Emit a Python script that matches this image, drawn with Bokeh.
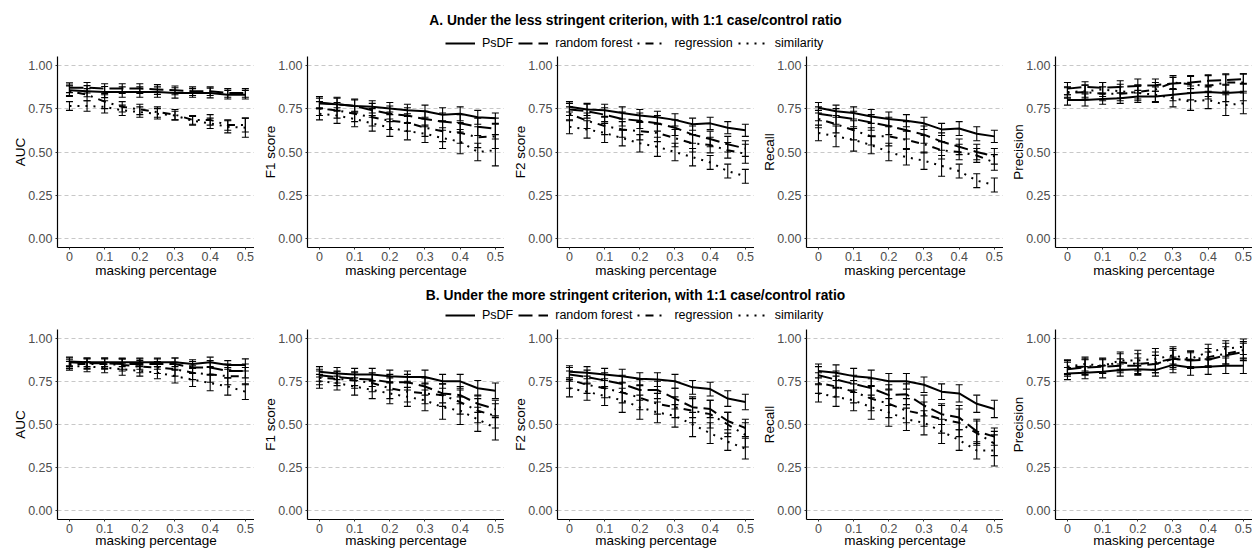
from bokeh.plotting import figure
from bokeh.models import (Range1d, FixedTicker, Whisker, TeeHead, ColumnDataSource,
                          Legend, LegendItem, Label)
from bokeh.layouts import column, row
from bokeh.embed import file_html
from bokeh.resources import INLINE

FONT = "Liberation Sans"

# ---------------- data ----------------
methods = ["PsDF", "random forest", "regression", "similarity"]
masking = [0.0, 0.05, 0.1, 0.15, 0.2, 0.25, 0.3, 0.35, 0.4, 0.45, 0.5]
x_ticks = [0.0, 0.1, 0.2, 0.3, 0.4, 0.5]
x_tick_labels = ["0", "0.1", "0.2", "0.3", "0.4", "0.5"]
y_ticks = [0.0, 0.25, 0.5, 0.75, 1.0]
y_tick_labels = ["0.00", "0.25", "0.50", "0.75", "1.00"]
metrics = ["AUC", "F1 score", "F2 score", "Recall", "Precision"]
title_a = "A. Under the less stringent criterion, with 1:1 case/control ratio"
title_b = "B. Under the more stringent criterion, with 1:1 case/control ratio"

# order of inner lists: PsDF, random forest, regression, similarity
A_AUC = [[0.855, 0.850, 0.845, 0.845, 0.845, 0.845, 0.840, 0.840, 0.840, 0.830, 0.830],
         [0.870, 0.870, 0.865, 0.865, 0.865, 0.860, 0.855, 0.850, 0.850, 0.840, 0.840],
         [0.850, 0.830, 0.790, 0.760, 0.745, 0.730, 0.715, 0.685, 0.685, 0.655, 0.655],
         [0.765, 0.765, 0.760, 0.740, 0.730, 0.720, 0.710, 0.680, 0.665, 0.645, 0.640]]
A_AUC_ERR = [[0.030, 0.032, 0.032, 0.030, 0.030, 0.030, 0.030, 0.025, 0.028, 0.025, 0.025],
             [0.028, 0.030, 0.028, 0.028, 0.028, 0.028, 0.025, 0.025, 0.025, 0.025, 0.025],
             [0.030, 0.035, 0.040, 0.030, 0.030, 0.030, 0.030, 0.025, 0.030, 0.030, 0.040],
             [0.025, 0.030, 0.035, 0.030, 0.030, 0.030, 0.025, 0.025, 0.030, 0.035, 0.055]]
A_F1 = [[0.780, 0.775, 0.765, 0.760, 0.750, 0.740, 0.735, 0.715, 0.720, 0.700, 0.695],
        [0.785, 0.775, 0.765, 0.740, 0.720, 0.710, 0.690, 0.675, 0.665, 0.645, 0.635],
        [0.750, 0.740, 0.720, 0.700, 0.680, 0.670, 0.640, 0.620, 0.610, 0.585, 0.590],
        [0.720, 0.710, 0.690, 0.665, 0.640, 0.620, 0.605, 0.580, 0.560, 0.500, 0.510]]
A_F1_ERR = [[0.030, 0.035, 0.035, 0.035, 0.035, 0.035, 0.035, 0.040, 0.040, 0.040, 0.030],
            [0.035, 0.040, 0.040, 0.040, 0.045, 0.045, 0.045, 0.050, 0.050, 0.050, 0.060],
            [0.040, 0.045, 0.045, 0.050, 0.050, 0.050, 0.050, 0.060, 0.060, 0.060, 0.070],
            [0.035, 0.045, 0.045, 0.045, 0.050, 0.050, 0.050, 0.060, 0.070, 0.050, 0.090]]
A_F2 = [[0.760, 0.745, 0.740, 0.725, 0.710, 0.700, 0.685, 0.660, 0.665, 0.640, 0.625],
        [0.745, 0.735, 0.715, 0.690, 0.680, 0.665, 0.640, 0.600, 0.575, 0.545, 0.520],
        [0.720, 0.680, 0.650, 0.630, 0.620, 0.610, 0.580, 0.550, 0.540, 0.510, 0.490],
        [0.645, 0.630, 0.610, 0.580, 0.550, 0.530, 0.500, 0.470, 0.440, 0.390, 0.360]]
A_F2_ERR = [[0.030, 0.035, 0.035, 0.035, 0.035, 0.035, 0.035, 0.035, 0.035, 0.035, 0.035],
            [0.035, 0.040, 0.040, 0.040, 0.045, 0.045, 0.045, 0.050, 0.045, 0.045, 0.045],
            [0.040, 0.045, 0.050, 0.045, 0.050, 0.050, 0.050, 0.050, 0.045, 0.045, 0.055],
            [0.040, 0.050, 0.055, 0.045, 0.050, 0.055, 0.050, 0.050, 0.040, 0.040, 0.040]]
A_REC = [[0.755, 0.735, 0.725, 0.705, 0.690, 0.680, 0.665, 0.630, 0.635, 0.605, 0.590],
         [0.720, 0.705, 0.690, 0.670, 0.650, 0.625, 0.600, 0.560, 0.530, 0.500, 0.475],
         [0.690, 0.660, 0.625, 0.590, 0.590, 0.570, 0.545, 0.510, 0.500, 0.480, 0.440],
         [0.610, 0.590, 0.570, 0.540, 0.500, 0.470, 0.450, 0.420, 0.390, 0.335, 0.310]]
A_REC_ERR = [[0.030, 0.035, 0.035, 0.040, 0.040, 0.035, 0.035, 0.035, 0.040, 0.040, 0.035],
             [0.040, 0.045, 0.045, 0.045, 0.050, 0.050, 0.050, 0.050, 0.045, 0.045, 0.045],
             [0.050, 0.050, 0.055, 0.050, 0.055, 0.050, 0.050, 0.050, 0.045, 0.040, 0.045],
             [0.045, 0.060, 0.065, 0.050, 0.050, 0.045, 0.050, 0.060, 0.040, 0.040, 0.040]]
A_PRE = [[0.800, 0.800, 0.805, 0.810, 0.820, 0.820, 0.830, 0.840, 0.845, 0.840, 0.845],
         [0.865, 0.875, 0.870, 0.875, 0.880, 0.885, 0.895, 0.900, 0.910, 0.915, 0.920],
         [0.840, 0.845, 0.835, 0.835, 0.845, 0.860, 0.900, 0.890, 0.880, 0.900, 0.900],
         [0.845, 0.850, 0.860, 0.850, 0.840, 0.830, 0.810, 0.790, 0.800, 0.770, 0.780]]
A_PRE_ERR = [[0.030, 0.035, 0.030, 0.030, 0.035, 0.030, 0.035, 0.040, 0.040, 0.050, 0.050],
             [0.035, 0.030, 0.030, 0.035, 0.040, 0.035, 0.035, 0.035, 0.035, 0.030, 0.030],
             [0.030, 0.040, 0.040, 0.040, 0.040, 0.040, 0.040, 0.050, 0.060, 0.050, 0.050],
             [0.030, 0.035, 0.040, 0.040, 0.045, 0.045, 0.050, 0.050, 0.050, 0.060, 0.060]]

B_AUC = [[0.865, 0.860, 0.860, 0.860, 0.860, 0.860, 0.860, 0.850, 0.860, 0.845, 0.845],
         [0.860, 0.855, 0.855, 0.850, 0.850, 0.850, 0.850, 0.830, 0.830, 0.810, 0.810],
         [0.850, 0.850, 0.850, 0.845, 0.835, 0.830, 0.820, 0.800, 0.790, 0.780, 0.780],
         [0.840, 0.835, 0.830, 0.820, 0.810, 0.800, 0.780, 0.760, 0.740, 0.720, 0.690]]
B_AUC_ERR = [[0.025, 0.025, 0.025, 0.025, 0.025, 0.025, 0.025, 0.025, 0.030, 0.025, 0.035],
             [0.025, 0.030, 0.030, 0.030, 0.030, 0.030, 0.035, 0.035, 0.040, 0.040, 0.040],
             [0.025, 0.030, 0.030, 0.035, 0.035, 0.035, 0.040, 0.040, 0.045, 0.050, 0.050],
             [0.025, 0.030, 0.030, 0.035, 0.030, 0.035, 0.040, 0.040, 0.045, 0.050, 0.045]]
B_F1 = [[0.805, 0.795, 0.790, 0.790, 0.780, 0.775, 0.775, 0.750, 0.750, 0.710, 0.695],
        [0.785, 0.775, 0.765, 0.760, 0.745, 0.745, 0.720, 0.680, 0.670, 0.620, 0.590],
        [0.770, 0.765, 0.755, 0.740, 0.710, 0.690, 0.680, 0.670, 0.630, 0.580, 0.550],
        [0.750, 0.740, 0.720, 0.700, 0.680, 0.660, 0.640, 0.600, 0.580, 0.530, 0.480]]
B_F1_ERR = [[0.030, 0.035, 0.035, 0.035, 0.035, 0.035, 0.040, 0.040, 0.040, 0.045, 0.045],
            [0.035, 0.035, 0.040, 0.040, 0.045, 0.045, 0.050, 0.055, 0.050, 0.050, 0.050],
            [0.040, 0.040, 0.045, 0.050, 0.060, 0.060, 0.060, 0.065, 0.070, 0.070, 0.070],
            [0.040, 0.040, 0.050, 0.050, 0.060, 0.055, 0.060, 0.070, 0.080, 0.070, 0.070]]
B_F2 = [[0.805, 0.800, 0.790, 0.780, 0.765, 0.760, 0.750, 0.715, 0.705, 0.650, 0.630],
        [0.790, 0.775, 0.755, 0.735, 0.700, 0.700, 0.650, 0.600, 0.590, 0.520, 0.480],
        [0.760, 0.730, 0.710, 0.685, 0.655, 0.620, 0.600, 0.580, 0.560, 0.500, 0.440],
        [0.710, 0.690, 0.665, 0.640, 0.600, 0.570, 0.550, 0.500, 0.450, 0.400, 0.360]]
B_F2_ERR = [[0.035, 0.035, 0.035, 0.040, 0.035, 0.040, 0.040, 0.040, 0.040, 0.045, 0.045],
            [0.040, 0.040, 0.045, 0.050, 0.060, 0.050, 0.060, 0.060, 0.050, 0.050, 0.050],
            [0.050, 0.050, 0.055, 0.060, 0.070, 0.060, 0.060, 0.070, 0.080, 0.070, 0.070],
            [0.050, 0.050, 0.055, 0.070, 0.070, 0.060, 0.065, 0.070, 0.060, 0.050, 0.060]]
B_REC = [[0.810, 0.800, 0.780, 0.770, 0.750, 0.750, 0.730, 0.690, 0.680, 0.620, 0.590],
         [0.785, 0.760, 0.735, 0.710, 0.670, 0.675, 0.610, 0.560, 0.540, 0.460, 0.430],
         [0.740, 0.720, 0.690, 0.650, 0.620, 0.580, 0.560, 0.530, 0.510, 0.450, 0.390],
         [0.680, 0.660, 0.640, 0.600, 0.570, 0.530, 0.510, 0.460, 0.410, 0.350, 0.350]]
B_REC_ERR = [[0.040, 0.045, 0.045, 0.045, 0.045, 0.045, 0.045, 0.045, 0.050, 0.050, 0.050],
             [0.050, 0.050, 0.050, 0.055, 0.060, 0.060, 0.060, 0.060, 0.070, 0.070, 0.050],
             [0.060, 0.060, 0.065, 0.070, 0.080, 0.070, 0.070, 0.080, 0.080, 0.070, 0.070],
             [0.050, 0.055, 0.060, 0.070, 0.080, 0.065, 0.070, 0.070, 0.060, 0.050, 0.090]]
B_PRE = [[0.795, 0.800, 0.805, 0.815, 0.820, 0.815, 0.845, 0.830, 0.835, 0.840, 0.840],
         [0.820, 0.830, 0.835, 0.840, 0.840, 0.850, 0.880, 0.870, 0.875, 0.900, 0.920],
         [0.830, 0.835, 0.840, 0.860, 0.850, 0.860, 0.880, 0.875, 0.890, 0.910, 0.930],
         [0.835, 0.850, 0.840, 0.870, 0.870, 0.880, 0.900, 0.880, 0.920, 0.940, 0.950]]
B_PRE_ERR = [[0.035, 0.035, 0.035, 0.035, 0.035, 0.035, 0.045, 0.045, 0.045, 0.045, 0.045],
             [0.040, 0.045, 0.040, 0.040, 0.045, 0.050, 0.050, 0.045, 0.045, 0.050, 0.050],
             [0.040, 0.045, 0.045, 0.050, 0.060, 0.060, 0.060, 0.050, 0.050, 0.060, 0.050],
             [0.040, 0.040, 0.040, 0.050, 0.060, 0.060, 0.050, 0.045, 0.045, 0.045, 0.045]]

# ---------------- style ----------------
DASHES = ["solid", "14 6", "2 6 8 6", "2 6"]
LEFT_BORDERS = [57, 53, 53, 52, 52]
FRAME_W = 197


def make_panel(ylabel, means, errs, left, frame_h, top, bottom, xlab_standoff):
    p = figure(frame_width=FRAME_W, frame_height=frame_h,
               x_range=Range1d(-0.034, 0.526), y_range=Range1d(-0.05, 1.05),
               output_backend="svg", toolbar_location=None,
               min_border_left=left, min_border_right=0,
               min_border_top=top, min_border_bottom=bottom)
    p.outline_line_color = None
    p.background_fill_color = "white"
    p.border_fill_color = "white"
    p.xgrid.visible = False
    p.ygrid.ticker = FixedTicker(ticks=y_ticks)
    p.ygrid.grid_line_color = "#c8c8c8"
    p.ygrid.grid_line_dash = "4 3"
    p.ygrid.grid_line_width = 1

    p.xaxis.ticker = FixedTicker(ticks=x_ticks)
    p.xaxis.major_label_overrides = {t: l for t, l in zip(x_ticks, x_tick_labels)}
    p.yaxis.ticker = FixedTicker(ticks=y_ticks)
    p.yaxis.major_label_overrides = {t: l for t, l in zip(y_ticks, y_tick_labels)}
    p.xaxis.axis_label = "masking percentage"
    p.yaxis.axis_label = ylabel
    for ax in (p.xaxis[0], p.yaxis[0]):
        ax.axis_line_color = "black"
        ax.axis_line_width = 1.2
        ax.major_tick_line_color = "#333333"
        ax.major_tick_out = 2
        ax.major_tick_in = 0
        ax.minor_tick_line_color = None
        ax.major_label_text_font = FONT
        ax.major_label_text_font_size = "12.5px"
        ax.major_label_text_color = "#4d4d4d"
        ax.axis_label_text_font = FONT
        ax.axis_label_text_font_size = "13.5px"
        ax.axis_label_text_font_style = "normal"
        ax.axis_label_text_color = "black"
    p.xaxis.major_label_standoff = 2
    p.xaxis.axis_label_standoff = xlab_standoff
    p.yaxis.major_label_standoff = 3
    p.yaxis.axis_label_standoff = -3

    for k in range(len(methods)):
        lo = [m - e for m, e in zip(means[k], errs[k])]
        hi = [m + e for m, e in zip(means[k], errs[k])]
        src = ColumnDataSource(dict(x=masking, y=means[k], lower=lo, upper=hi))
        p.line("x", "y", source=src, line_color="black", line_width=2,
               line_dash=DASHES[k])
        w = Whisker(source=src, base="x", upper="upper", lower="lower",
                    line_color="black", line_width=1.1,
                    upper_head=TeeHead(size=7, line_color="black", line_width=1.1),
                    lower_head=TeeHead(size=7, line_color="black", line_width=1.1))
        p.add_layout(w)
    return p


def make_header(text, frame_h, title_y, legend_y):
    h = figure(frame_width=1252, frame_height=frame_h,
               x_range=Range1d(0, 1), y_range=Range1d(0, 1),
               output_backend="svg", toolbar_location=None,
               min_border=0, x_axis_location=None, y_axis_location=None)
    h.outline_line_color = None
    h.xgrid.visible = False
    h.ygrid.visible = False
    h.add_layout(Label(x=635, y=title_y, x_units="screen", y_units="screen",
                       text=text, text_font=FONT, text_font_size="13.8px",
                       text_font_style="bold", text_align="center",
                       text_baseline="middle", text_color="black"))
    items = []
    for k, m in enumerate(methods):
        r = h.line(x=[-5, -4], y=[-5, -5], line_color="black", line_width=2,
                   line_dash=DASHES[k])
        items.append(LegendItem(label=m, renderers=[r]))
    lg = Legend(items=items, orientation="horizontal", location=(445, legend_y),
                glyph_width=30, glyph_height=14, label_height=14,
                label_standoff=7, spacing=5, padding=0, margin=0,
                border_line_color=None, background_fill_alpha=0,
                label_text_font=FONT, label_text_font_size="12.5px",
                label_text_color="black")
    h.add_layout(lg, "center")
    return h


data_a = [(A_AUC, A_AUC_ERR), (A_F1, A_F1_ERR), (A_F2, A_F2_ERR), (A_REC, A_REC_ERR), (A_PRE, A_PRE_ERR)]
data_b = [(B_AUC, B_AUC_ERR), (B_F1, B_F1_ERR), (B_F2, B_F2_ERR), (B_REC, B_REC_ERR), (B_PRE, B_PRE_ERR)]

row_a = row(*[make_panel(metrics[i], data_a[i][0], data_a[i][1], LEFT_BORDERS[i], 191, 4, 30, -1)
              for i in range(5)])
row_b = row(*[make_panel(metrics[i], data_b[i][0], data_b[i][1], LEFT_BORDERS[i], 190, 4, 29, -3)
              for i in range(5)])
head_a = make_header(title_a, 52, 32, 2)
head_b = make_header(title_b, 45, 30, 3)

layout = column(head_a, row_a, head_b, row_b)
open("out.html", "w").write(file_html(layout, INLINE))
